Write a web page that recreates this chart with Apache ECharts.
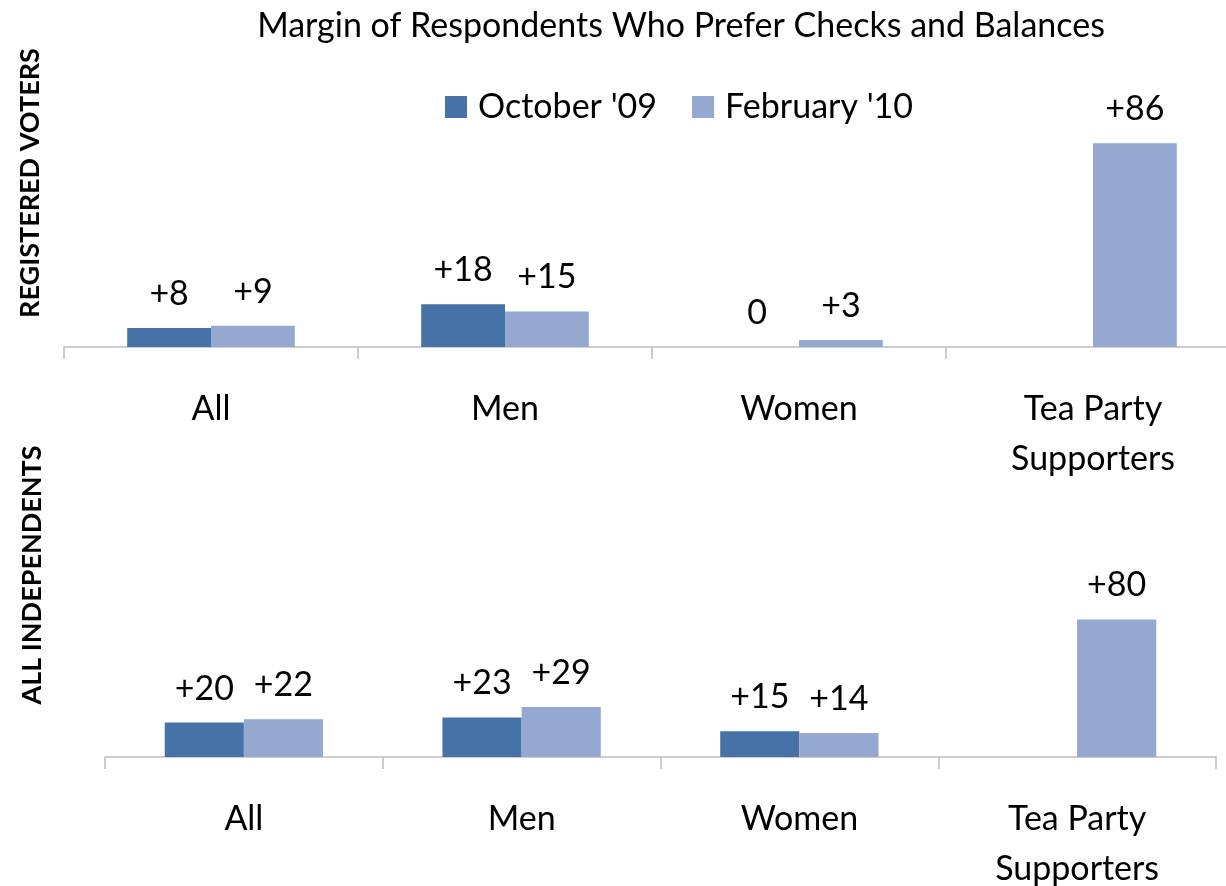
<!DOCTYPE html>
<html>
<head>
<meta charset="utf-8">
<script src="https://cdn.jsdelivr.net/npm/echarts@6/dist/echarts.min.js"></script>
<style>
  html, body { margin: 0; padding: 0; background: #fff; }
  #chart { width: 1226px; height: 886px; }
</style>
</head>
<body>
<div id="chart"></div>
<script>
// categories
const groups = ["All", "Men", "Women", "Tea Party\nSupporters"];
const seriesNames = ["October '09", "February '10"];

// registered voters
const voterOct = [8, 18, 0, null];
const voterFeb = [9, 15, 3, 86];

// all independents
const indepOct = [20, 23, 15, null];
const indepFeb = [22, 29, 14, 80];

const colorOct = "#4672a8";
const colorFeb = "#95a9d0";
const font = "Lato, 'Open Sans', sans-serif";

const chart = echarts.init(document.getElementById("chart"));

// label with leading plus, zero stays plain
const fmt = p => (p.value === 0 ? "0" : "+" + p.value);

function makeBar(name, data, idx, color) {
  return {
    name: name,
    type: "bar",
    xAxisIndex: idx,
    yAxisIndex: idx,
    data: data,
    barGap: 0,
    barCategoryGap: "43%",
    itemStyle: { color: color },
    label: {
      show: true,
      position: "top",
      distance: 17,
      formatter: fmt,
      color: "#000",
      fontSize: 34,
      fontFamily: font,
    },
  };
}

function makeXAxis(idx) {
  return {
    type: "category",
    gridIndex: idx,
    data: groups,
    axisLine: { lineStyle: { color: "#bdbdbd", width: 1.5 } },
    axisTick: { show: true, length: 12, lineStyle: { color: "#bdbdbd", width: 1.5 } },
    axisLabel: {
      color: "#000",
      fontSize: 34,
      fontFamily: font,
      margin: 37,
      lineHeight: 50,
      interval: 0,
    },
  };
}

const option = {
  animation: false,
  title: {
    text: "Margin of Respondents Who Prefer Checks and Balances",
    left: 676,
    textAlign: "center",
    top: 4,
    textStyle: { color: "#000", fontSize: 34, fontWeight: "normal", fontFamily: font },
  },
  legend: {
    data: seriesNames,
    left: 440,
    top: 85,
    icon: "rect",
    itemWidth: 22,
    itemHeight: 22,
    itemGap: 35,
    textStyle: { color: "#000", fontSize: 34, fontFamily: font, padding: [0, 0, 0, 6] },
  },
  grid: [
    { left: 64, width: 1176, top: 110, height: 237, outerBoundsMode: "none", containLabel: false },
    { left: 105, width: 1111, top: 585, height: 172, outerBoundsMode: "none", containLabel: false },
  ],
  xAxis: [makeXAxis(0), makeXAxis(1)],
  yAxis: [
    { type: "value", gridIndex: 0, min: 0, max: 100, show: false },
    { type: "value", gridIndex: 1, min: 0, max: 100, show: false },
  ],
  graphic: [
    {
      type: "text",
      x: 30,
      y: 183,
      rotation: Math.PI / 2,
      style: {
        text: "REGISTERED VOTERS",
        font: "bold 27px " + font,
        fill: "#000",
        align: "center",
        verticalAlign: "middle",
      },
    },
    {
      type: "text",
      x: 32,
      y: 575,
      rotation: Math.PI / 2,
      style: {
        text: "ALL INDEPENDENTS",
        font: "bold 27px " + font,
        fill: "#000",
        align: "center",
        verticalAlign: "middle",
      },
    },
  ],
  series: [
    makeBar(seriesNames[0], voterOct, 0, colorOct),
    makeBar(seriesNames[1], voterFeb, 0, colorFeb),
    makeBar(seriesNames[0], indepOct, 1, colorOct),
    makeBar(seriesNames[1], indepFeb, 1, colorFeb),
  ],
};

chart.setOption(option);
</script>
</body>
</html>
